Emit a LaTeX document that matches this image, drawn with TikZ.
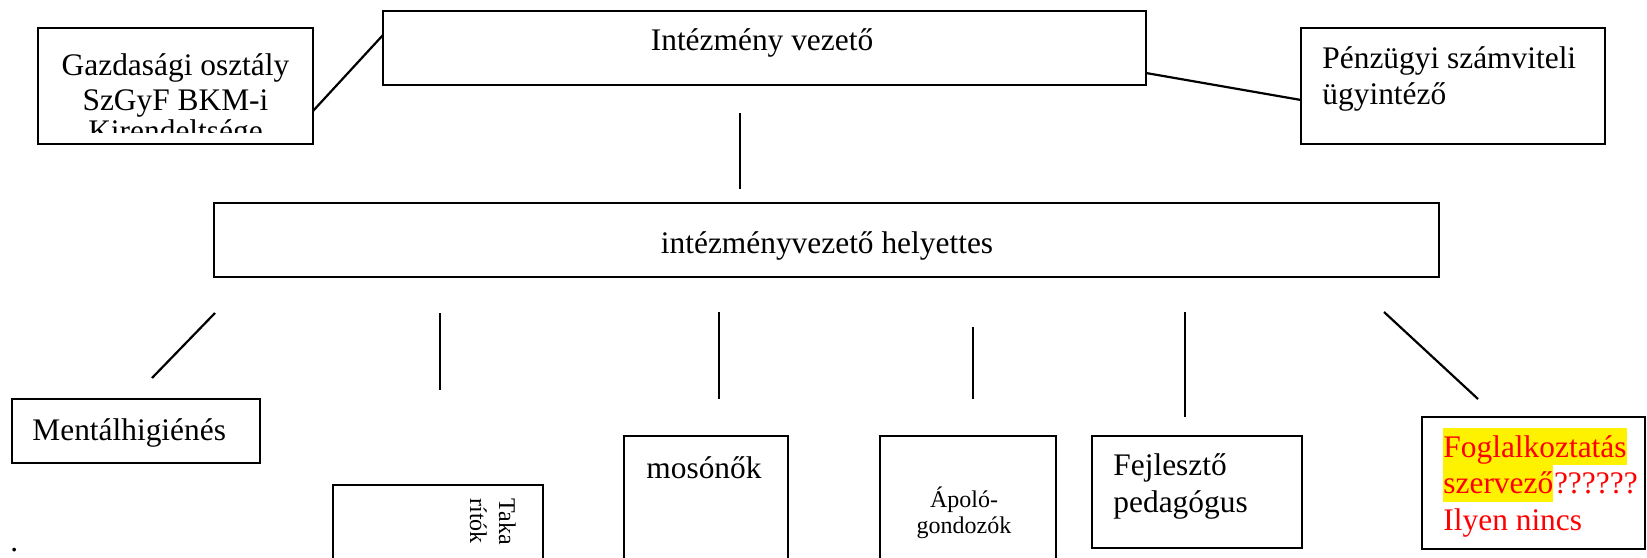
\documentclass[tikz,border=0pt]{standalone}
\usepackage{fontspec}
\setmainfont{Liberation Serif}
\usetikzlibrary{fit}
\begin{document}
\begin{tikzpicture}[x=0.5pt,y=-0.5pt,
  box/.style={draw, line width=1.1pt, inner sep=0pt},
  conn/.style={line width=1.1pt},
  txt/.style={inner sep=0pt, font=\fontsize{15.7}{18}\selectfont},
  smalltxt/.style={inner sep=0pt, font=\fontsize{12}{14}\selectfont},
  redtxt/.style={txt, text=red},
  hl/.style={redtxt, fill=yellow}
]
\clip (0,0) rectangle (1647,557);
\fill[white] (0,0) rectangle (1647,557);

% boxes
\node[box, fit={(38,28) (313,144)}] (gazd) {};
\node[box, fit={(383,11) (1146,85)}] (intez) {};
\node[box, fit={(1301,28) (1605,144)}] (penz) {};
\node[box, fit={(214,203) (1439,277)}] (helyt) {};
\node[box, fit={(12,399) (260,463)}] (mental) {};
\node[box, fit={(333,485) (543,620)}] (takar) {};
\node[box, fit={(624,436) (788,620)}] (moson) {};
\node[box, fit={(880,436) (1056,620)}] (apolo) {};
\node[box, fit={(1092,436) (1302,548)}] (fejl) {};
\node[box, fit={(1422,417) (1645,549)}] (fogl) {};

% connectors
\coordinate (ga) at (313,111);
\coordinate (ia) at (383,35);
\draw[conn] (ga) -- (ia);
\coordinate (ib) at (1146,73);
\coordinate (pa) at (1301,100);
\draw[conn] (ib) -- (pa);
\coordinate (v1a) at (740,113);
\coordinate (v1b) at (740,189);
\draw[conn] (v1a) -- (v1b);
\coordinate (d1a) at (215,313);
\coordinate (d1b) at (152,378);
\draw[conn] (d1a) -- (d1b);
\coordinate (v2a) at (440,313);
\coordinate (v2b) at (440,390);
\draw[conn] (v2a) -- (v2b);
\coordinate (v3a) at (719,312);
\coordinate (v3b) at (719,399);
\draw[conn] (v3a) -- (v3b);
\coordinate (v4a) at (973,327);
\coordinate (v4b) at (973,399);
\draw[conn] (v4a) -- (v4b);
\coordinate (v5a) at (1185,312);
\coordinate (v5b) at (1185,417);
\draw[conn] (v5a) -- (v5b);
\coordinate (d6a) at (1384,312);
\coordinate (d6b) at (1478,399);
\draw[conn] (d6a) -- (d6b);

% texts
\begin{scope}
\clip (38,28) rectangle (313,132);
\node[txt, anchor=base] (g1) at (175.5,75) {Gazdasági osztály};
\node[txt, anchor=base] (g2) at (175.5,110) {SzGyF BKM-i};
\node[txt, anchor=base] (g3) at (175.5,141) {Kirendeltsége};
\end{scope}
\node[txt, anchor=base] (t1) at (762,50) {Intézmény vezető};
\node[txt, anchor=base west] (p1) at (1322,68) {Pénzügyi számviteli};
\node[txt, anchor=base west] (p2) at (1322,104) {ügyintéző};
\node[txt, anchor=base] (h1) at (827,253) {intézményvezető helyettes};
\node[txt, anchor=base west] (m1) at (32,440) {Mentálhigiénés};
\node[smalltxt, anchor=base west, rotate=-90] (k1) at (499,498) {Taka};
\node[smalltxt, anchor=base west, rotate=-90] (k2) at (470,498) {rítók};
\node[txt, anchor=base west] (s1) at (646,478) {mosónők};
\node[smalltxt, anchor=base] (a1) at (964,507) {Ápoló-};
\node[smalltxt, anchor=base] (a2) at (964,533) {gondozók};
\node[txt, anchor=base west] (f1) at (1113,475) {Fejlesztő};
\node[txt, anchor=base west] (f2) at (1113,512) {pedagógus};
\node[hl, anchor=base west, text height=14.5pt, text depth=4pt] (o1) at (1443,457) {Foglalkoztatás};
\node[hl, anchor=base west, text height=14pt, text depth=4.5pt] (o2) at (1443,493) {szervező};
\node[redtxt, anchor=base west] (o3) at (o2.base east) {??????};
\node[redtxt, anchor=base west] (o4) at (1443,530) {Ilyen nincs};
\node[txt, anchor=base west] (dot) at (10,551) {.};
\end{tikzpicture}
\end{document}
